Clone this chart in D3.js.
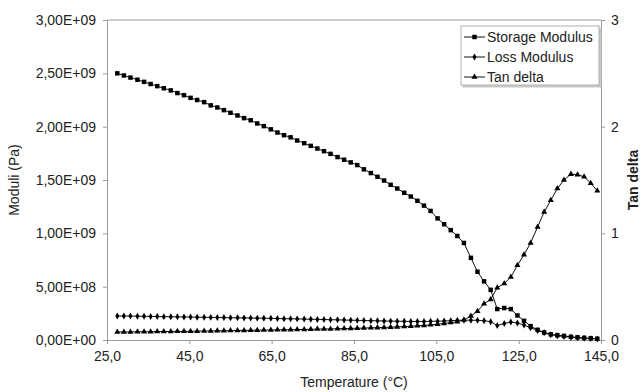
<!DOCTYPE html>
<html>
<head>
<meta charset="utf-8">
<script src="https://cdn.jsdelivr.net/npm/d3@7"></script>
<style>
  body { margin: 0; background: #fff; }
  text { font-family: "Liberation Sans", Arial, sans-serif; }
</style>
</head>
<body>
<div id="chart"></div>
<script>
// temperature (°C)
var temps = [27.5, 29.1, 30.7, 32.4, 34.0, 35.6, 37.2, 38.8, 40.5, 42.1, 43.7, 45.3, 46.9, 48.6, 50.2,
  51.8, 53.4, 55.0, 56.7, 58.3, 59.9, 61.5, 63.1, 64.8, 66.4, 68.0, 69.6, 71.2, 72.9, 74.5, 76.1,
  77.7, 79.3, 81.0, 82.6, 84.2, 85.8, 87.4, 89.1, 90.7, 92.3, 93.9, 95.5, 97.2, 98.8, 100.4, 102.0,
  103.6, 105.3, 106.9, 108.5, 110.1, 111.7, 113.4, 115.0, 116.6, 118.2, 119.8, 121.5, 123.1, 124.7,
  126.3, 127.9, 129.6, 131.2, 132.8, 134.4, 136.0, 137.7, 139.3, 140.9, 142.5, 144.1];

// moduli in 1E+09 Pa
var storage = [2.50, 2.48, 2.46, 2.44, 2.42, 2.40, 2.38, 2.36, 2.34, 2.315, 2.295, 2.27, 2.25, 2.23, 2.20,
  2.18, 2.155, 2.13, 2.105, 2.08, 2.06, 2.03, 2.005, 1.975, 1.945, 1.92, 1.90, 1.87, 1.845, 1.82, 1.795,
  1.77, 1.745, 1.715, 1.69, 1.665, 1.64, 1.60, 1.565, 1.53, 1.495, 1.455, 1.42, 1.38, 1.345, 1.305, 1.26,
  1.21, 1.14, 1.085, 1.03, 0.975, 0.91, 0.77, 0.64, 0.55, 0.47, 0.29, 0.30, 0.29, 0.23,
  0.18, 0.13, 0.095, 0.07, 0.053, 0.045, 0.038, 0.03, 0.025, 0.02, 0.016, 0.012];

var loss = [0.225, 0.224, 0.224, 0.223, 0.222, 0.221, 0.220, 0.219, 0.218, 0.217, 0.216, 0.215, 0.214, 0.213, 0.212,
  0.211, 0.210, 0.209, 0.208, 0.207, 0.206, 0.205, 0.204, 0.203, 0.201, 0.200, 0.199, 0.198, 0.196, 0.195, 0.193,
  0.192, 0.190, 0.189, 0.187, 0.186, 0.184, 0.183, 0.181, 0.180, 0.178, 0.177, 0.176, 0.175, 0.174, 0.174, 0.174,
  0.175, 0.176, 0.178, 0.181, 0.184, 0.186, 0.186, 0.184, 0.180, 0.172, 0.135, 0.155, 0.168, 0.160,
  0.140, 0.115, 0.090, 0.068, 0.050, 0.040, 0.032, 0.025, 0.020, 0.016, 0.013, 0.010];

var tanDelta = [0.075, 0.076, 0.076, 0.077, 0.077, 0.078, 0.079, 0.079, 0.080, 0.081, 0.081, 0.082, 0.083, 0.084, 0.085,
  0.086, 0.087, 0.088, 0.089, 0.090, 0.091, 0.092, 0.093, 0.094, 0.095, 0.096, 0.097, 0.098, 0.099, 0.100, 0.102,
  0.103, 0.104, 0.106, 0.107, 0.109, 0.110, 0.112, 0.114, 0.116, 0.118, 0.120, 0.123, 0.126, 0.129, 0.133, 0.137,
  0.142, 0.148, 0.155, 0.163, 0.172, 0.188, 0.225, 0.27, 0.34, 0.38, 0.49, 0.53, 0.59, 0.70,
  0.80, 0.91, 1.06, 1.20, 1.31, 1.42, 1.50, 1.555, 1.55, 1.53, 1.47, 1.40];

var xTicks = [25, 45, 65, 85, 105, 125, 145];
var leftTicks = [0, 5e8, 1e9, 1.5e9, 2e9, 2.5e9, 3e9];
var rightTicks = [0, 1, 2, 3];
var seriesNames = ["Storage Modulus", "Loss Modulus", "Tan delta"];

var width = 644, height = 392;
var margin = {top: 20, bottom: 52, left: 107, right: 43};
var fontSize = "14px";

var svg = d3.select("#chart").append("svg")
    .attr("width", width)
    .attr("height", height);

var x = d3.scaleLinear().domain([25, 145]).range([margin.left, width - margin.right]);
var yL = d3.scaleLinear().domain([0, 3e9]).range([height - margin.bottom, margin.top]);
var yR = d3.scaleLinear().domain([0, 3]).range([height - margin.bottom, margin.top]);

function sci(d) {
    var parts = d.toExponential(2).split("e");
    var e = parts[1];
    return parts[0].replace(".", ",") + "E" + e[0] + e.slice(1).padStart(2, "0");
}

var axisColor = "#9a9a9a";

// frame top line
svg.append("line")
    .attr("x1", x(25)).attr("x2", x(145))
    .attr("y1", yL(3e9)).attr("y2", yL(3e9))
    .attr("stroke", axisColor);

function styleAxis(g) {
    g.select(".domain").attr("stroke", axisColor);
    g.selectAll(".tick line").attr("stroke", axisColor);
    g.selectAll(".tick text").attr("fill", "#222").style("font-size", fontSize);
}

svg.append("g")
    .attr("transform", "translate(0," + yL(0) + ")")
    .call(d3.axisBottom(x).tickValues(xTicks).tickSize(4).tickSizeOuter(0).tickPadding(7)
        .tickFormat(function(d){ return d3.format(".1f")(d).replace(".", ","); }))
    .call(styleAxis);

svg.append("g")
    .attr("transform", "translate(" + x(25) + ",0)")
    .call(d3.axisLeft(yL).tickValues(leftTicks).tickSize(4).tickSizeOuter(0).tickPadding(7).tickFormat(sci))
    .call(styleAxis);

svg.append("g")
    .attr("transform", "translate(" + x(145) + ",0)")
    .call(d3.axisRight(yR).tickValues(rightTicks).tickSize(4).tickSizeOuter(0).tickPadding(6).tickFormat(d3.format("d")))
    .call(styleAxis);

// axis titles
svg.append("text")
    .attr("x", (x(25) + x(145)) / 2)
    .attr("y", 387)
    .attr("text-anchor", "middle")
    .attr("fill", "#222")
    .style("font-size", fontSize)
    .text("Temperature (°C)");

svg.append("text")
    .attr("transform", "translate(19," + yL(1.5e9) + ") rotate(-90)")
    .attr("text-anchor", "middle")
    .attr("fill", "#222")
    .style("font-size", fontSize)
    .text("Moduli (Pa)");

svg.append("text")
    .attr("transform", "translate(638," + yL(1.5e9) + ") rotate(-90)")
    .attr("text-anchor", "middle")
    .attr("fill", "#222")
    .style("font-size", fontSize)
    .style("font-weight", "bold")
    .text("Tan delta");

// series
var rows = temps.map(function(t, i){
    return {t: t, storage: storage[i] * 1e9, loss: loss[i] * 1e9, tan: tanDelta[i]};
});

var series = [
    {name: seriesNames[0], y: function(d){ return yL(d.storage); }, symbol: d3.symbolSquare, size: 20},
    {name: seriesNames[1], y: function(d){ return yL(d.loss); }, symbol: d3.symbolDiamond, size: 14},
    {name: seriesNames[2], y: function(d){ return yR(d.tan); }, symbol: d3.symbolTriangle, size: 16}
];

series.forEach(function(s){
    var line = d3.line()
        .x(function(d){ return x(d.t); })
        .y(s.y);

    svg.append("path")
        .datum(rows)
        .attr("d", line)
        .attr("fill", "none")
        .attr("stroke", "#111")
        .attr("stroke-width", 1);

    svg.append("g").selectAll("path")
        .data(rows)
        .enter()
        .append("path")
        .attr("d", d3.symbol().type(s.symbol).size(s.size))
        .attr("transform", function(d){ return "translate(" + x(d.t) + "," + s.y(d) + ")"; })
        .attr("fill", "#000");
});

// legend
var legend = svg.append("g").attr("transform", "translate(461,26)");

legend.append("rect")
    .attr("x", 1.5).attr("y", 1.5)
    .attr("width", 139).attr("height", 60)
    .attr("fill", "#c8c8c8");

legend.append("rect")
    .attr("x", 0).attr("y", 0)
    .attr("width", 138).attr("height", 59)
    .attr("fill", "#fff")
    .attr("stroke", "#b0b0b0");

series.forEach(function(s, i){
    var ly = 11 + i * 20;
    legend.append("line")
        .attr("x1", 3).attr("x2", 24)
        .attr("y1", ly).attr("y2", ly)
        .attr("stroke", "#111");
    legend.append("path")
        .attr("d", d3.symbol().type(s.symbol).size(s.size))
        .attr("transform", "translate(13.5," + ly + ")")
        .attr("fill", "#000");
    legend.append("text")
        .attr("x", 26)
        .attr("y", ly + 5)
        .attr("fill", "#222")
        .style("font-size", fontSize)
        .text(s.name);
});
</script>
</body>
</html>
